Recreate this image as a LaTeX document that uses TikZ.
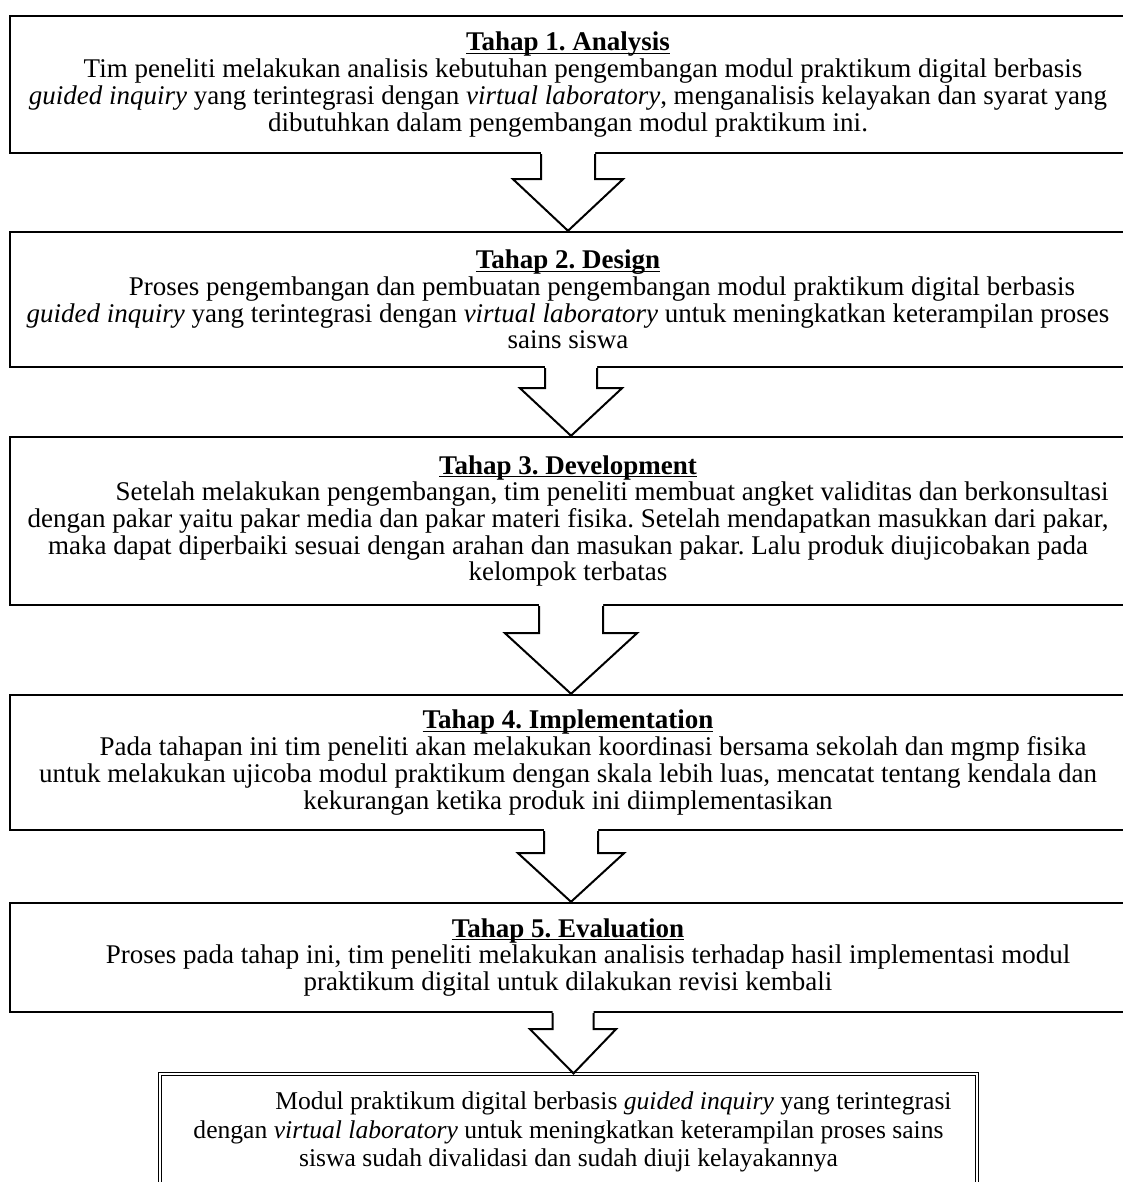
\documentclass[tikz,border=0pt]{standalone}
\usepackage{fontspec}
\setmainfont{Liberation Serif}
\usetikzlibrary{calc}
\frenchspacing
\tikzset{
  box/.style={draw=black, line width=1.2pt, rectangle, inner sep=0pt, align=center,
    minimum width=558pt, font=\fontsize{13.5}{13.35}\selectfont},
  finalbox/.style={draw=black, double, double distance=0.7pt, line width=0.6pt, rectangle, inner sep=0pt, align=center,
    minimum width=408.5pt, font=\fontsize{12.8}{14.2}\selectfont},
  arrline/.style={draw=black, line width=1pt, line join=miter},
}
\newcommand\ttl[1]{\setbox0\hbox{\textbf{#1}}\rlap{\rule[-1.6pt]{\wd0}{0.65pt}}\box0}
\newcommand\blkarrow[6]{%
  \path ($(#1.south)+(#6,0)$) coordinate (#1-c) ($(#2.north)+(#6,0)$) coordinate (#1-tip);
  \fill[white] ($(#1-c)+(-#4,-2)$) -- ($(#1-c)+(-#4,#3)$) -- ($(#1-c)+(-#5,#3)$) -- (#1-tip)
     -- ($(#1-c)+(#5,#3)$) -- ($(#1-c)+(#4,#3)$) -- ($(#1-c)+(#4,-2)$) -- cycle;
  \draw[arrline] ($(#1-c)+(-#4,0)$) -- ($(#1-c)+(-#4,#3)$) -- ($(#1-c)+(-#5,#3)$) -- (#1-tip)
     -- ($(#1-c)+(#5,#3)$) -- ($(#1-c)+(#4,#3)$) -- ($(#1-c)+(#4,0)$);
}
\begin{document}
\begin{tikzpicture}[x=0.5pt, y=-0.5pt]
\useasboundingbox (0,0) rectangle (1123,1182);
\begin{scope}
\clip (0,0) rectangle (1123,1182);
\node[box, minimum height=68.5pt] (b1) at (568,84.5) {\ttl{Tahap 1. Analysis}\\
\hspace*{15pt}Tim peneliti melakukan analisis kebutuhan pengembangan modul praktikum digital berbasis\\
\textit{guided inquiry} yang terintegrasi dengan \textit{virtual laboratory}, menganalisis kelayakan dan syarat yang\\
dibutuhkan dalam pengembangan modul praktikum ini.};
\node[box, minimum height=67.5pt] (b2) at (568,299.5) {\ttl{Tahap 2. Design}\\
\hspace*{34pt}Proses pengembangan dan pembuatan pengembangan modul praktikum digital berbasis\\
\textit{guided inquiry} yang terintegrasi dengan \textit{virtual laboratory} untuk meningkatkan keterampilan proses\\
sains siswa};
\node[box, minimum height=84pt] (b3) at (568,521) {\ttl{Tahap 3. Development}\\
\hspace*{44pt}Setelah melakukan pengembangan, tim peneliti membuat angket validitas dan berkonsultasi\\
dengan pakar yaitu pakar media dan pakar materi fisika. Setelah mendapatkan masukkan dari pakar,\\
maka dapat diperbaiki sesuai dengan arahan dan masukan pakar. Lalu produk diujicobakan pada\\
kelompok terbatas};
\node[box, minimum height=67.5pt] (b4) at (568,762.5) {\ttl{Tahap 4. Implementation}\\
\hspace*{25pt}Pada tahapan ini tim peneliti akan melakukan koordinasi bersama sekolah dan mgmp fisika\\
untuk melakukan ujicoba modul praktikum dengan skala lebih luas, mencatat tentang kendala dan\\
kekurangan ketika produk ini diimplementasikan};
\node[box, minimum height=54.5pt] (b5) at (568,957.5) {\ttl{Tahap 5. Evaluation}\\
\hspace*{20pt}Proses pada tahap ini, tim peneliti melakukan analisis terhadap hasil implementasi modul\\
praktikum digital untuk dilakukan revisi kembali};
\node[finalbox, minimum height=58pt] (b6) at (568.5,1132) {\hspace*{45pt}Modul praktikum digital berbasis \textit{guided inquiry} yang terintegrasi\\
dengan \textit{virtual laboratory} untuk meningkatkan keterampilan proses sains\\
siswa sudah divalidasi dan sudah diuji kelayakannya};
\blkarrow{b1}{b2}{25}{27}{55}{0}
\blkarrow{b2}{b3}{20}{26}{51}{3}
\blkarrow{b3}{b4}{27}{32}{66}{3}
\blkarrow{b4}{b5}{22}{27}{53}{3}
\blkarrow{b5}{b6}{16}{20.5}{43}{5}
\end{scope}
\end{tikzpicture}
\end{document}
